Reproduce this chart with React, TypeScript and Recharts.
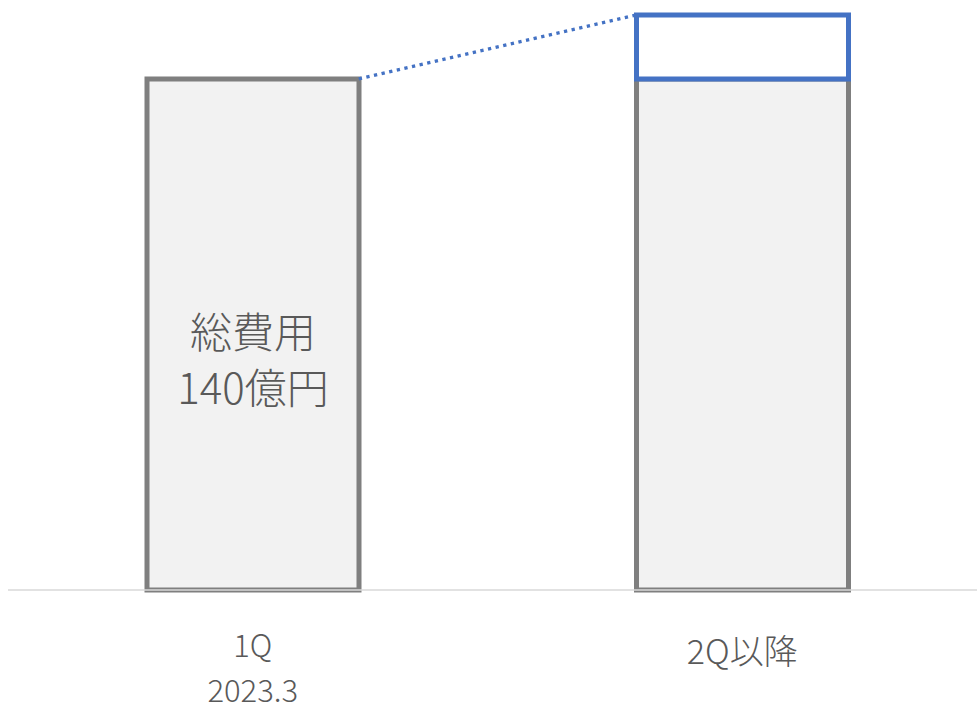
import React from "react";
import { BarChart, Bar, XAxis, YAxis, ReferenceLine } from "recharts";

const categories = ["1Q", "2Q以降"];
const subLabels = ["2023.3", ""];
const baseValues = [140, 140];
const addValues = [0, 17.5];
const insideLines = ["総費用", "140億円"];

const data = categories.map((name, i) => ({ name, sub: subLabels[i], base: baseValues[i], add: addValues[i] }));

const BAR = 212;
const FONT = '"Noto Sans CJK JP", "Noto Sans", sans-serif';
const TEXT = "#595959";

function AxisTick(props: any) {
  const { x, y, index } = props;
  const sub = subLabels[index];
  return (
    <g>
      <text x={x} y={sub ? y + 53 : y + 59} textAnchor="middle" dominantBaseline="central" fontSize={sub ? 31 : 34} fontWeight={300} fill={TEXT} fontFamily={FONT}>
        {categories[index]}
      </text>
      {sub && (
        <text x={x} y={y + 98.5} textAnchor="middle" dominantBaseline="central" fontSize={31} fontWeight={300} fill={TEXT} fontFamily={FONT}>
          {sub}
        </text>
      )}
    </g>
  );
}

function InsideLabel(props: any) {
  const { x, y, width, height, index } = props;
  if (index !== 0) return null;
  const cx = x + width / 2;
  const cy = y + height / 2;
  return (
    <g>
      <text x={cx} y={cy - 5} textAnchor="middle" dominantBaseline="central" fontSize={42} fontWeight={300} fill={TEXT} fontFamily={FONT}>
        {insideLines[0]}
      </text>
      <text x={cx} y={cy + 51} textAnchor="middle" dominantBaseline="central" fontSize={42} fontWeight={300} fill={TEXT} fontFamily={FONT}>
        {insideLines[1]}
      </text>
    </g>
  );
}

// connector from top-right of bar 1 to top-left of bar 2
function Connector(p: any) {
  return (
    <line
      x1={p.x1 + BAR / 2}
      y1={p.y1}
      x2={p.x2 - BAR / 2}
      y2={p.y2}
      stroke="#4472c4"
      strokeWidth={3.3}
      strokeDasharray="3.3 4.5"
    />
  );
}

export default function App() {
  return (
    <div style={{ position: "absolute", left: 0, top: 0, width: 977, height: 710, overflow: "hidden", background: "#fff" }}>
      <BarChart width={987} height={710} data={data} margin={{ top: 15, right: 0, left: 8, bottom: 0 }} barSize={BAR}>
        <XAxis
          dataKey="name"
          height={120}
          tickSize={0}
          tickMargin={0}
          tickLine={false}
          axisLine={{ stroke: "#d9d9d9", strokeWidth: 1.5 }}
          tick={<AxisTick />}
          interval={0}
        />
        <YAxis hide domain={[0, 157.5]} />
        <Bar dataKey="base" stackId="a" fill="#f2f2f2" stroke="#7f7f7f" strokeWidth={5} isAnimationActive={false} label={<InsideLabel />} />
        <Bar dataKey="add" stackId="a" fill="#ffffff" stroke="#4472c4" strokeWidth={5} isAnimationActive={false} />
        <ReferenceLine
          segment={[
            { x: categories[0], y: baseValues[0] + addValues[0] },
            { x: categories[1], y: baseValues[1] + addValues[1] },
          ]}
          shape={Connector}
          ifOverflow="visible"
        />
      </BarChart>
    </div>
  );
}
